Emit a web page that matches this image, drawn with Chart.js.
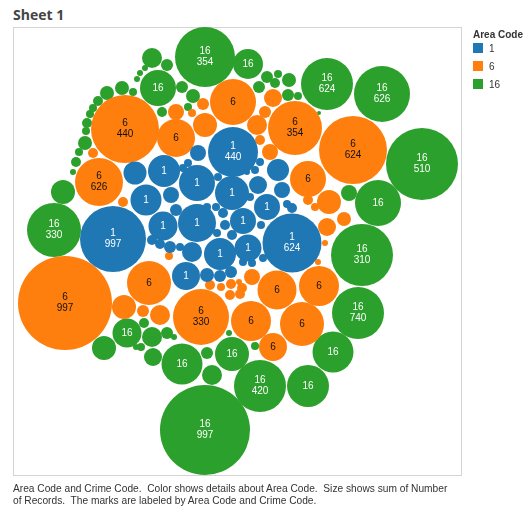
<!DOCTYPE html>
<html lang="en">
  <head>
    <meta charset="UTF-8" />
    <title>Sheet 1</title>
    <script src="https://cdn.jsdelivr.net/npm/chart.js"></script>
    <style>
      body { margin: 0; width: 531px; height: 529px; background: #fff; font-family: "Liberation Sans", Arial, sans-serif; position: relative; overflow: hidden; }
      .title { position: absolute; left: 13px; top: 5px; font: bold 14px "Open Sans", "Liberation Sans", sans-serif; color: #444; }
      .box { position: absolute; left: 13px; top: 27px; width: 447px; height: 447px; border: 1px solid #d4d4d4; }
      #chart { position: absolute; }
      .legend { position: absolute; left: 473px; top: 29px; font-size: 10px; color: #333; }
      .legend b { display: block; margin-bottom: 3px; }
      .legend div { height: 18px; display: flex; align-items: flex-start; }
      .legend i { display: inline-block; width: 10px; height: 10px; margin-right: 6px; }
      .footer { position: absolute; left: 13px; top: 483px; font-size: 10.2px; line-height: 12px; color: #333; white-space: pre; }
    </style>
  </head>
  <body>
    <div class="title">Sheet 1</div>
    <div class="box"></div>
    <canvas id="chart"></canvas>
    <div class="legend" id="legend"><b>Area Code</b></div>
    <div class="footer">Area Code and Crime Code.  Color shows details about Area Code.  Size shows sum of Number
of Records.  The marks are labeled by Area Code and Crime Code.</div>
    <script>
      const areaCodes = ["1", "6", "16"];
      const areaColors = ["#1f77b4", "#ff7f0e", "#2ca02c"];
      const labelColors = ["#fff", "#111", "#fff"];

      // packed layout: [x, y, size(radius), crime code]
      // crime "" -> only the area code is shown, null -> no label
      const bubbles1 = [
        [233, 152, 25, "440"], [113, 239, 33, "997"], [292, 243, 29.5, "624"],
        [164, 171, 16, ""], [197, 183, 18, ""], [232, 193, 17, ""], [146, 200, 15.5, ""],
        [197, 223, 19, ""], [163, 226, 14.5, ""], [243, 221, 13, ""], [267, 207, 13, ""],
        [220, 254, 16, ""], [248, 248, 13.5, ""], [186, 276, 14, ""],
        [135, 173, 11.5, null], [198, 153, 8, null], [171, 195, 8, null], [278, 170, 11, null],
        [258, 185, 9, null], [282, 190, 8, null], [192, 252, 10, null], [207, 275, 7, null],
        [220, 276, 6, null], [231, 272, 6, null], [152, 240, 5, null], [160, 244, 5, null],
        [170, 247, 6, null], [180, 247, 4, null], [176, 210, 6, null], [207, 207, 4, null],
        [216, 207, 4, null], [223, 213, 5, null], [225, 225, 5, null], [217, 233, 4, null],
        [232, 235, 5, null], [250, 197, 4, null], [287, 204, 4, null], [292, 208, 5, null],
        [261, 225, 4, null], [243, 262, 4, null], [252, 263, 4, null], [263, 258, 4, null],
        [188, 163, 4, null], [183, 168, 4, null], [218, 177, 4, null], [247, 172, 3, null],
        [260, 162, 4, null], [255, 170, 4, null]
      ];
      const bubbles6 = [
        [125, 129, 34, "440"], [295, 128, 27, "354"], [353, 150, 34, "624"], [99, 182, 24, "626"],
        [65, 303, 47, "997"], [201, 317, 28, "330"],
        [233, 102, 23, ""], [176, 138, 19, ""], [308, 179, 18, ""], [149, 283, 22, ""],
        [277, 290, 19.5, ""], [319, 286, 20, ""], [251, 321, 20, ""], [302, 324, 22, ""],
        [273, 347, 14, ""],
        [124, 307, 12, null], [143, 311, 6, null], [160, 315, 10, null], [205, 125, 12, null],
        [176, 112, 8, null], [203, 104, 6, null], [192, 113, 4, null], [257, 125, 10, null],
        [273, 98, 9, null], [265, 112, 6, null], [270, 152, 8, null], [260, 140, 5, null],
        [93, 153, 5, null], [123, 202, 5, null], [169, 256, 4, null], [329, 202, 12, null],
        [344, 219, 7, null], [327, 227, 9, null], [308, 200, 5, null], [315, 207, 4, null],
        [252, 277, 8, null], [242, 288, 5, null], [325, 243, 3, null], [318, 262, 3, null],
        [210, 285, 5, null], [221, 287, 4, null], [231, 284, 5, null], [239, 282, 3, null],
        [230, 295, 5, null], [240, 294, 5, null]
      ];
      const bubbles16 = [
        [205, 57, 30, "354"], [327, 84, 26, "624"], [382, 94, 28, "626"], [422, 164, 36, "510"],
        [54, 230, 27, "330"], [362, 255, 31, "310"], [358, 313, 26, "740"], [260, 386, 26, "420"],
        [205, 430, 45, "997"],
        [248, 64, 15, ""], [158, 88, 18, ""], [378, 203, 23, ""], [127, 333, 14.5, ""],
        [182, 364, 20.5, ""], [232, 354, 17, ""], [333, 352, 20.5, ""], [308, 386, 21, ""],
        [152, 58, 10, null], [167, 65, 6, null], [182, 87, 6, null], [193, 96, 7, null],
        [122, 88, 7, null], [107, 93, 7, null], [98, 101, 5, null], [93, 108, 4, null],
        [90, 114, 4, null], [87, 123, 5, null], [86, 131, 4, null], [85, 143, 7, null],
        [79, 152, 4, null], [76, 162, 5, null], [73, 172, 3, null], [63, 192, 12, null],
        [162, 112, 5, null], [133, 92, 4, null], [137, 79, 3, null], [140, 73, 3, null],
        [145, 68, 3, null], [188, 107, 4, null], [267, 77, 6, null], [259, 87, 6, null],
        [278, 74, 4, null], [289, 80, 7, null], [288, 95, 6, null], [298, 96, 4, null],
        [275, 83, 5, null], [319, 113, 2, null], [349, 193, 8, null], [104, 348, 12, null],
        [144, 323, 5, null], [152, 337, 10, null], [153, 357, 9, null], [167, 333, 6, null],
        [136, 347, 3, null], [141, 347, 4, null], [174, 337, 3, null], [207, 353, 6, null],
        [212, 375, 10, null], [255, 346, 4, null], [229, 333, 3, null]
      ];
      const allBubbles = [bubbles1, bubbles6, bubbles16];

      const legend = document.getElementById("legend");
      areaCodes.forEach((code, i) => {
        const row = document.createElement("div");
        row.innerHTML = `<i style="background:${areaColors[i]}"></i>${code}`;
        legend.appendChild(row);
      });

      // bubble charts pad the plot area by the biggest radius, so grow the
      // canvas by that much so the plot area lands on the bordered box
      const box = { left: 13, top: 27, size: 448 };
      const pad = Math.ceil(Math.max(...allBubbles.flat().map((b) => b[2])));
      const canvas = document.getElementById("chart");
      canvas.width = canvas.height = box.size + 2 * pad;
      canvas.style.left = box.left - pad + "px";
      canvas.style.top = box.top - pad + "px";

      const bubbleLabels = {
        id: "bubbleLabels",
        afterDatasetsDraw(chart) {
          const ctx = chart.ctx;
          ctx.save();
          ctx.font = '10px "Liberation Sans", Arial, sans-serif';
          ctx.textAlign = "center";
          ctx.textBaseline = "middle";
          chart.data.datasets.forEach((ds, i) => {
            ctx.fillStyle = labelColors[i];
            chart.getDatasetMeta(i).data.forEach((el, j) => {
              const crime = allBubbles[i][j][3];
              if (crime == null) return;
              if (crime === "") {
                ctx.fillText(areaCodes[i], el.x, el.y);
              } else {
                ctx.fillText(areaCodes[i], el.x, el.y - 5.5);
                ctx.fillText(crime, el.x, el.y + 5.5);
              }
            });
          });
          ctx.restore();
        },
      };

      new Chart(canvas, {
        type: "bubble",
        data: {
          datasets: allBubbles.map((list, i) => ({
            label: areaCodes[i],
            data: list.map((b) => ({ x: b[0], y: b[1], r: b[2] })),
            backgroundColor: areaColors[i],
            borderWidth: 0,
            hoverBorderWidth: 0,
            clip: false,
          })),
        },
        options: {
          responsive: false,
          animation: false,
          layout: { padding: 0 },
          plugins: { legend: { display: false }, tooltip: { enabled: false } },
          scales: {
            x: { type: "linear", min: box.left, max: box.left + box.size, display: false },
            y: { type: "linear", min: box.top, max: box.top + box.size, reverse: true, display: false },
          },
        },
        plugins: [bubbleLabels],
      });
    </script>
  </body>
</html>
